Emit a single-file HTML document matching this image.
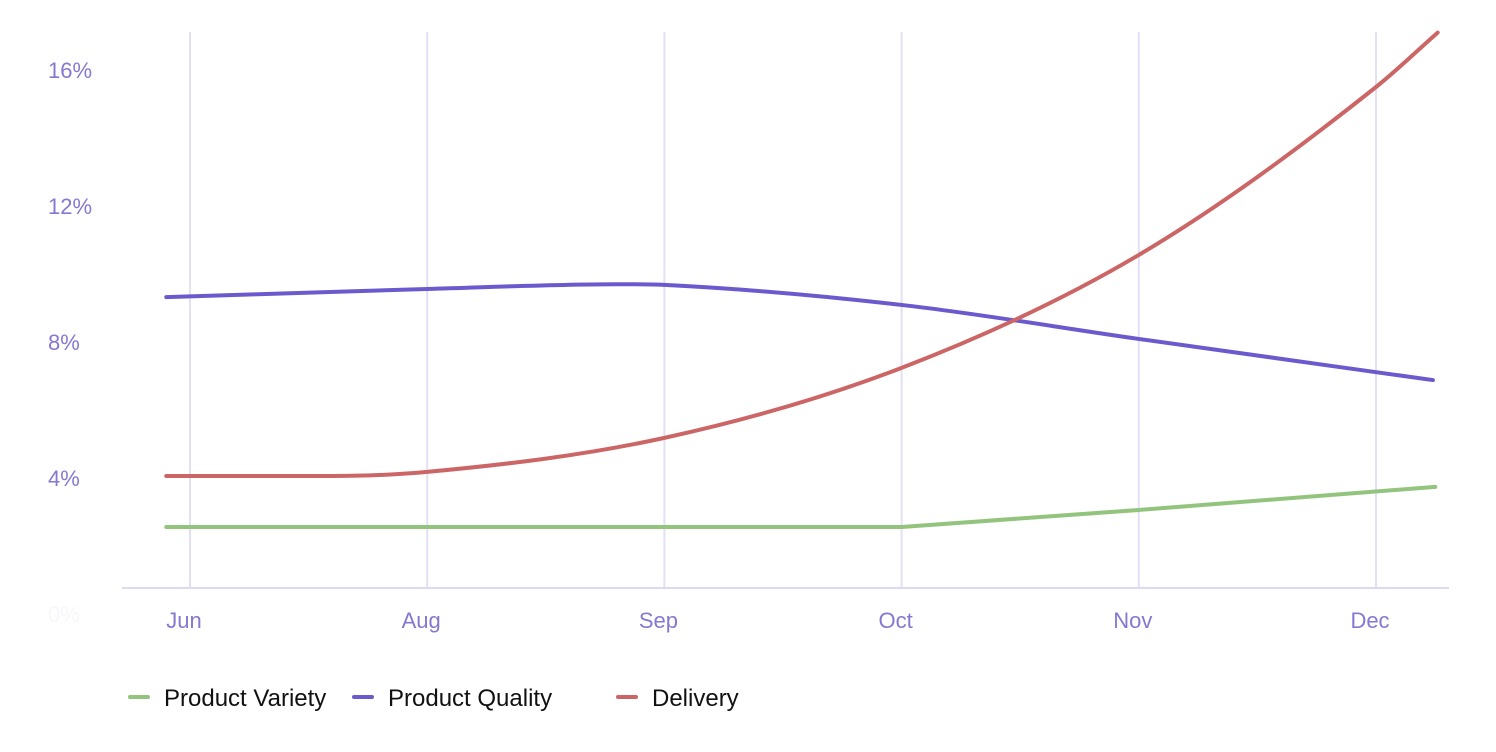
<!DOCTYPE html>
<html><head><meta charset="utf-8"><style>
body{margin:0;background:#fff;}
svg{display:block;font-family:"Liberation Sans",sans-serif;}
</style></head><body>
<svg id="chart" width="1496" height="752"></svg>
<script>
const months=["Jun","Aug","Sep","Oct","Nov","Dec"];
const yTicks=[0,4,8,12,16];
const varietyX=[-0.1,3,4,5.25];
const varietyY=[2.56,2.56,3.06,3.74];
const qualityX=[-0.1,1,1.8,2,3,4,5.24];
const qualityY=[9.32,9.56,9.7,9.68,9.09,8.09,6.88];
const deliveryX=[-0.1,0.6,1,2,3,4,5,5.26];
const deliveryY=[4.06,4.06,4.18,5.18,7.24,10.56,15.5,17.1];
const NS="http://www.w3.org/2000/svg";
const svg=document.getElementById('chart');
const xs=i=>190+i*237.2;
const ys=v=>614-v*34;
function mk(t,a){const e=document.createElementNS(NS,t);for(const k in a)e.setAttribute(k,a[k]);svg.appendChild(e);return e;}
months.forEach((m,i)=>{
  const g=mk('line',{x1:xs(i),x2:xs(i),y1:32,y2:588,stroke:'#e3e0f5','stroke-width':2});
  
  
  const t=mk('text',{x:xs(i)-6,y:628,'font-size':22,fill:'#8479d0','text-anchor':'middle'});
  t.textContent=m;
  
  
});
yTicks.forEach(v=>{
  const t=mk('text',{x:48,y:ys(v)+8,'font-size':22,fill:v===0?'#f7f6fc':'#8479d0'});
  t.textContent=v+'%';
  
  
});
const ax=mk('line',{x1:122,x2:1449,y1:588,y2:588,stroke:'#dcd9f0','stroke-width':2});


function path(X,Y){
  const p=X.map((x,i)=>[xs(x),ys(Y[i])]);const n=p.length;
  const d=[],m=[];
  for(let i=0;i<n-1;i++)d.push((p[i+1][1]-p[i][1])/(p[i+1][0]-p[i][0]));
  for(let i=0;i<n;i++){
    if(i===0)m.push(d[0]);else if(i===n-1)m.push(d[n-2]);
    else m.push(d[i-1]*d[i]<=0?0:(d[i-1]+d[i])/2);
  }
  for(let i=0;i<n-1;i++){if(d[i]===0){m[i]=0;m[i+1]=0;}}
  let s='M'+p[0][0]+','+p[0][1];
  for(let i=0;i<n-1;i++){
    const h=(p[i+1][0]-p[i][0])/3;
    s+=' C'+(p[i][0]+h)+','+(p[i][1]+m[i]*h)+' '+(p[i+1][0]-h)+','+(p[i+1][1]-m[i+1]*h)+' '+p[i+1][0]+','+p[i+1][1];
  }
  return s;
}
function linePath(X,Y){return X.map((x,i)=>(i?'L':'M')+xs(x)+','+ys(Y[i])).join(' ');}
const l1=mk('path',{d:linePath(varietyX,varietyY),fill:'none',stroke:'#93c47d','stroke-width':4,'stroke-linecap':'round'});


const l2=mk('path',{d:path(qualityX,qualityY),fill:'none',stroke:'#6a5acd','stroke-width':4,'stroke-linecap':'round'});


const l3=mk('path',{d:path(deliveryX,deliveryY),fill:'none',stroke:'#cc6666','stroke-width':4,'stroke-linecap':'round'});


const leg=[["Product Variety","#93c47d",130],["Product Quality","#6a5acd",354],["Delivery","#cc6666",618]];
leg.forEach(l=>{
  const s=mk('line',{x1:l[2],x2:l[2]+18,y1:697,y2:697,stroke:l[1],'stroke-width':4,'stroke-linecap':'round'});
  
  
  const t=mk('text',{x:l[2]+34,y:706,'font-size':24,fill:'#111'});
  t.textContent=l[0];
  
  
});
</script>
</body></html>
